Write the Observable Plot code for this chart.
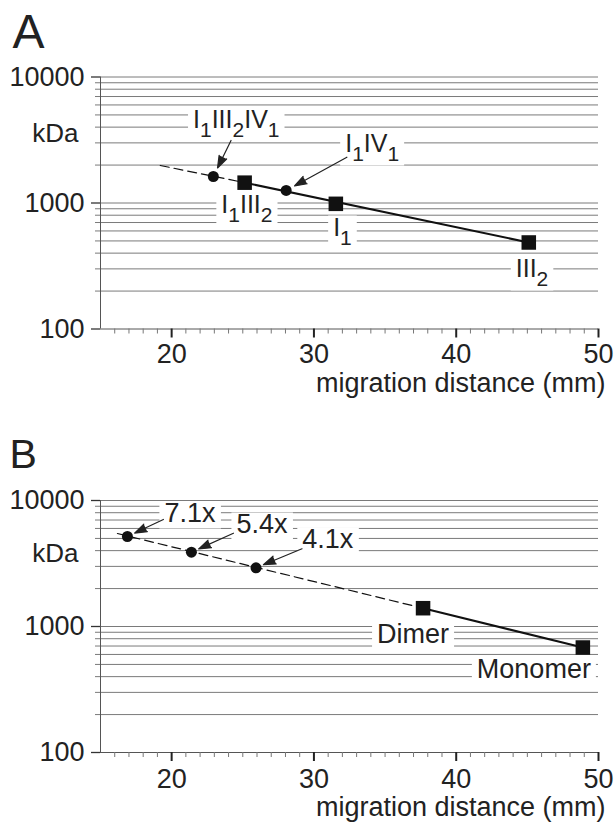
<!DOCTYPE html>
<html>
<head>
<meta charset="utf-8">
<script src="https://cdn.jsdelivr.net/npm/d3@7"></script>
<script src="https://cdn.jsdelivr.net/npm/@observablehq/plot@0.6"></script>
<style>
  html, body { margin: 0; padding: 0; background: #fff; }
  #fig { width: 615px; height: 827px; overflow: hidden; }
  #fig svg { display: block; }
</style>
</head>
<body>
<div id="fig"></div>
<script>
// ---------------- data ----------------
// Panel A: complexes, migration distance (mm) vs apparent mass (kDa)
const aSquareLabels = ["I_1III_2", "I_1", "III_2"];
const aSquareDist   = [25.13, 31.54, 45.1];
const aSquareKDa    = [1450, 985, 486];
const aCircleLabels = ["I_1III_2IV_1", "I_1IV_1"];
const aCircleDist   = [22.93, 28.05];
const aCircleKDa    = [1623, 1257];
const aLineDist     = [19.2, 25.13, 45.1];   // dashed extrapolation start, fit start, fit end
const aLineKDa      = [1985, 1450, 486];

// Panel B
const bSquareLabels = ["Dimer", "Monomer"];
const bSquareDist   = [37.67, 48.9];
const bSquareKDa    = [1397, 681];
const bCircleLabels = ["7.1x", "5.4x", "4.1x"];
const bCircleDist   = [16.89, 21.39, 25.93];
const bCircleKDa    = [5180, 3888, 2924];
const bLineDist     = [16.19, 37.67, 48.9];
const bLineKDa      = [5470, 1397, 681];

// axes
const xMajorTicks = [20, 30, 40, 50];
const xMinorTicks = d3.range(16, 50).filter(v => v % 10 !== 0);
const yMajorTicks = [100, 1000, 10000];
const yMinorTicks = [200, 300, 400, 500, 600, 700, 800, 900, 2000, 3000, 4000, 5000, 6000, 7000, 8000, 9000];
const xLabel = "migration distance (mm)";
const yLabel = "kDa";

// ---------------- drawing ----------------
const W = 615, ML = 100, MR = 17;
const FF = "'Liberation Sans', Arial, Helvetica, sans-serif";
const NS = "http://www.w3.org/2000/svg";
const allLabels = new Set([...aSquareLabels, ...aCircleLabels, ...bSquareLabels, ...bCircleLabels]);

function zipPts(labels, xs, ys, kind) {
  return labels.map((label, i) => ({label, x: xs[i], y: ys[i], kind}));
}

function makePanel(cfg) {
  const {height, mt, mb, squares, circles, lineDist, lineKDa,
         labelOffsets, arrowTails, insetEnd, labelSize,
         title, titleSize, titleDx, titleDy, kdaDy, tickPadX, xLabelDy} = cfg;
  const sx = d3.scaleLinear([15, 50], [ML, W - MR]);
  const sy = d3.scaleLog([100, 10000], [height - mb, mt]);
  const shift = (p, [dx, dy]) => ({x: sx.invert(sx(p.x) + dx), y: sy.invert(sy(p.y) + dy)});
  const pts = [...squares, ...circles];
  const labels = pts.map(p => ({text: p.label, ...shift(p, labelOffsets[p.label])}));
  const arrows = pts.filter(p => arrowTails[p.label]).map(p => {
    const t = shift(p, arrowTails[p.label]);
    return {x1: t.x, y1: t.y, x2: p.x, y2: p.y};
  });
  const dash = lineDist.slice(0, 2).map((x, i) => ({x, y: lineKDa[i]}));
  const solid = lineDist.slice(1).map((x, i) => ({x, y: lineKDa[i + 1]}));

  return Plot.plot({
    width: W, height,
    marginLeft: ML, marginRight: MR, marginTop: mt, marginBottom: mb,
    x: {type: "linear", domain: [15, 50], label: null},
    y: {type: "log", domain: [100, 10000], label: null},
    style: {fontFamily: FF, background: "#fff", color: "#222", overflow: "visible"},
    marks: [
      Plot.gridY([...yMinorTicks, 1000, 10000], {stroke: "#7a7a7a", strokeOpacity: 1, strokeWidth: 1}),
      Plot.axisY(yMinorTicks, {tickSize: 5, tickFormat: () => "", stroke: "#7a7a7a", label: null}),
      Plot.axisY(yMajorTicks, {tickSize: 9, tickPadding: 7, tickFormat: d3.format("d"), fontSize: 27, stroke: "#333", strokeWidth: 1.3, fill: "#222", label: null}),
      Plot.ruleX([15], {stroke: "#555"}),
      Plot.ruleY([100], {stroke: "#555"}),
      Plot.axisX(xMinorTicks, {tickSize: 5, tickFormat: () => "", stroke: "#777", label: null}),
      Plot.axisX(xMajorTicks, {tickSize: 9, tickPadding: tickPadX, strokeWidth: 2, stroke: "#222", fill: "#222", fontSize: 27, label: null}),
      Plot.text([xLabel], {text: d => d, frameAnchor: "bottom-right", textAnchor: "end", lineAnchor: "bottom", dx: 7, dy: xLabelDy, fontSize: 27, fill: "#222"}),
      Plot.text([yLabel], {text: d => d, frameAnchor: "top-left", textAnchor: "end", lineAnchor: "bottom", dx: -22, dy: kdaDy, fontSize: 26, fill: "#222"}),
      Plot.text([title], {text: d => d, frameAnchor: "top-left", textAnchor: "start", lineAnchor: "bottom", dx: titleDx, dy: titleDy, fontSize: titleSize, fill: "#222"}),
      Plot.text(labels, {x: "x", y: "y", text: "text", textAnchor: "start", lineAnchor: "bottom", fontSize: labelSize, fill: "#222"}),
      Plot.line(dash, {x: "x", y: "y", stroke: "#111", strokeWidth: 1.2, strokeDasharray: "9,5"}),
      Plot.line(solid, {x: "x", y: "y", stroke: "#111", strokeWidth: 2}),
      Plot.arrow(arrows, {x1: "x1", y1: "y1", x2: "x2", y2: "y2", stroke: "#222", fill: "#222", strokeWidth: 1.2, headLength: 16, headAngle: 38, insetEnd}),
      Plot.dot(squares, {x: "x", y: "y", symbol: "square", r: 8.2, fill: "#111", stroke: "none"}),
      Plot.dot(circles, {x: "x", y: "y", r: 5.5, fill: "#111", stroke: "none"})
    ]
  });
}

function labelTexts(svg) {
  return Array.from(svg.querySelectorAll("text")).filter(t => allLabels.has(t.textContent));
}

function subscripts(texts) {
  texts.forEach(t => {
    const s = t.textContent;
    if (!s.includes("_")) return;
    t.textContent = "";
    const parts = s.split(/_(\d)/);
    parts.forEach((p, i) => {
      if (!p) return;
      const ts = document.createElementNS(NS, "tspan");
      ts.textContent = p;
      if (i % 2) { ts.setAttribute("font-size", "21"); ts.setAttribute("dy", "9"); }
      else if (i > 0) { ts.setAttribute("dy", "-9"); }
      t.appendChild(ts);
    });
  });
}

function boxes(texts) {
  texts.forEach(t => {
    const b = t.getBBox();
    const r = document.createElementNS(NS, "rect");
    r.setAttribute("x", b.x - 5);
    r.setAttribute("y", b.y + 3);
    r.setAttribute("width", b.width + 10);
    r.setAttribute("height", Math.max(0, b.height - 3));
    r.setAttribute("fill", "#fff");
    r.setAttribute("stroke", "none");
    const tr = t.getAttribute("transform");
    if (tr) r.setAttribute("transform", tr);
    t.parentNode.insertBefore(r, t);
  });
}

const fig = document.getElementById("fig");

const svgA = makePanel({
  height: 413, mt: 76.5, mb: 84.5,
  squares: zipPts(aSquareLabels, aSquareDist, aSquareKDa, "square"),
  circles: zipPts(aCircleLabels, aCircleDist, aCircleKDa, "circle"),
  lineDist: aLineDist, lineKDa: aLineKDa,
  labelOffsets: {
    "I_1III_2IV_1": [-20.3, -48],
    "I_1IV_1": [59, -38],
    "I_1III_2": [-23.3, 30.7],
    "I_1": [-2.7, 31.7],
    "III_2": [-13, 35]
  },
  arrowTails: {"I_1III_2IV_1": [17.7, -36], "I_1IV_1": [60.7, -33.3]},
  insetEnd: 9.5, labelSize: 25,
  title: "A", titleSize: 48, titleDx: -88, titleDy: -29.5,
  kdaDy: 64.5, tickPadX: 6, xLabelDy: 62.5
});
fig.appendChild(svgA);

const svgB = makePanel({
  height: 414, mt: 87, mb: 75,
  squares: zipPts(bSquareLabels, bSquareDist, bSquareKDa, "square"),
  circles: zipPts(bCircleLabels, bCircleDist, bCircleKDa, "circle"),
  lineDist: bLineDist, lineKDa: bLineKDa,
  labelOffsets: {
    "7.1x": [37, -14],
    "5.4x": [45, -18.7],
    "4.1x": [46.3, -19.3],
    "Dimer": [-46, 34.3],
    "Monomer": [-106, 30]
  },
  arrowTails: {"7.1x": [36, -17], "5.4x": [42, -19], "4.1x": [46, -19]},
  insetEnd: 8, labelSize: 27,
  title: "B", titleSize: 41, titleDx: -91, titleDy: -33,
  kdaDy: 61.7, tickPadX: 7, xLabelDy: 63.5
});
fig.appendChild(svgB);

[svgA, svgB].forEach(s => { const ts = labelTexts(s); subscripts(ts); boxes(ts); });
</script>
</body>
</html>
